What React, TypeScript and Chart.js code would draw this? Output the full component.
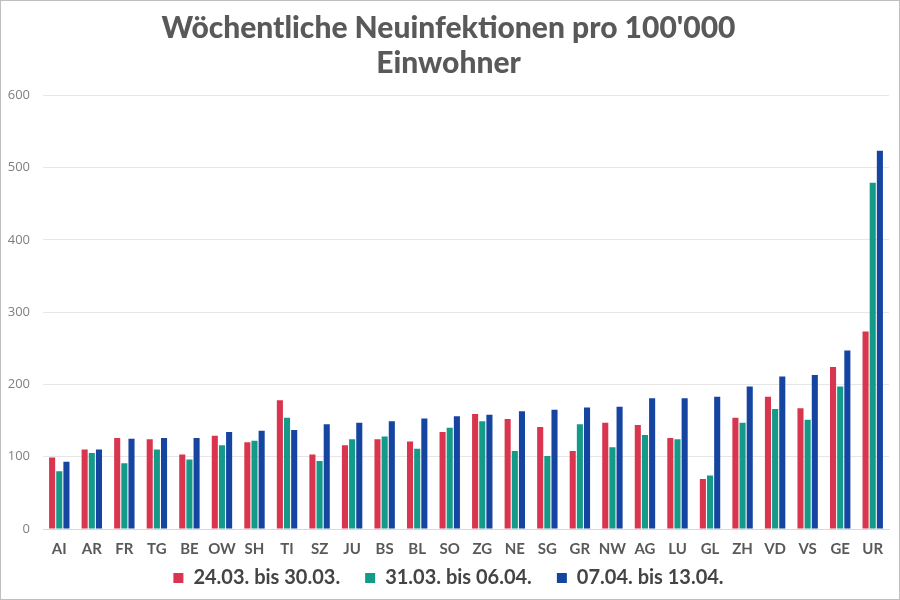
import React, { useEffect, useRef } from "react";
import { Chart, registerables } from "chart.js";

Chart.register(...registerables);

const categories = ["AI", "AR", "FR", "TG", "BE", "OW", "SH", "TI", "SZ", "JU", "BS", "BL", "SO", "ZG", "NE", "SG", "GR", "NW", "AG", "LU", "GL", "ZH", "VD", "VS", "GE", "UR"];
const week1 = [99, 110, 126, 124, 103, 129, 120, 178, 103, 116, 124, 121, 134, 159, 152, 141, 108, 147, 144, 126, 69, 154, 183, 167, 224, 273];
const week2 = [80, 105, 91, 110, 96, 116, 122, 154, 94, 124, 128, 111, 140, 149, 108, 101, 145, 113, 130, 124, 74, 147, 166, 151, 197, 479];
const week3 = [93, 110, 125, 126, 126, 134, 136, 137, 145, 147, 149, 153, 156, 158, 163, 165, 168, 169, 181, 181, 183, 197, 211, 213, 247, 523];
const seriesLabels = ["24.03. bis 30.03.", "31.03. bis 06.04.", "07.04. bis 13.04."];
const seriesColors = ["#D9354F", "#149A88", "#1545A0"];
const titleLines = ["Wöchentliche Neuinfektionen pro 100'000", "Einwohner"];

export default function App() {
  const ref = useRef<HTMLCanvasElement>(null);
  useEffect(() => {
    if (!ref.current) return;
    const defaultGen = Chart.defaults.plugins.legend.labels.generateLabels;
    const chart = new Chart(ref.current, {
      type: "bar",
      data: {
        labels: categories,
        datasets: [
          { label: seriesLabels[0], data: week1, backgroundColor: seriesColors[0] },
          { label: seriesLabels[1], data: week2, backgroundColor: seriesColors[1] },
          { label: seriesLabels[2], data: week3, backgroundColor: seriesColors[2] },
        ],
      },
      options: {
        animation: false,
        responsive: false,
        maintainAspectRatio: false,
        layout: { padding: { left: 7, right: 10, top: 5, bottom: 1 } },
        datasets: { bar: { barPercentage: 0.85, categoryPercentage: 0.66 } },
        plugins: {
          title: {
            display: true,
            text: titleLines,
            color: "#595959",
            font: { family: "Lato", size: 30, weight: "900", lineHeight: 1.17 },
            padding: { top: 5, bottom: 14 },
          },
          legend: {
            position: "bottom",
            labels: {
              color: "#444444",
              font: { family: "Lato", size: 20, weight: "bold" },
              boxWidth: 10,
              boxHeight: 10,
              padding: 10,
              generateLabels: (c: any) => {
                const items = defaultGen(c);
                items.forEach((it: any, i: number) => {
                  if (i < items.length - 1) it.text = it.text + "\u2003";
                });
                return items;
              },
            },
          },
          tooltip: { enabled: false },
        },
        scales: {
          x: {
            grid: { display: false },
            border: { color: "#D9D9D9" },
            afterFit: (scale: any) => {
              scale.height = 29;
            },
            ticks: {
              color: "#595959",
              font: { family: "Lato", size: 15, weight: "bold" },
              padding: 3,
              maxRotation: 0,
              minRotation: 0,
              autoSkip: false,
            },
          },
          y: {
            min: 0,
            max: 600,
            grid: { color: "#E6E6E6", drawTicks: false },
            border: { display: false },
            afterFit: (scale: any) => {
              scale.width = 35;
            },
            ticks: { stepSize: 100, color: "#7F7F7F", font: { family: "Open Sans", size: 13 }, padding: 13 },
          },
        },
      },
    });
    return () => chart.destroy();
  }, []);
  return (
    <div style={{ position: "absolute", left: 0, top: 0, width: 900, height: 600, boxSizing: "border-box", border: "1px solid #BFBFBF", background: "#fff" }}>
      <canvas ref={ref} width={898} height={598} style={{ display: "block" }} />
    </div>
  );
}
